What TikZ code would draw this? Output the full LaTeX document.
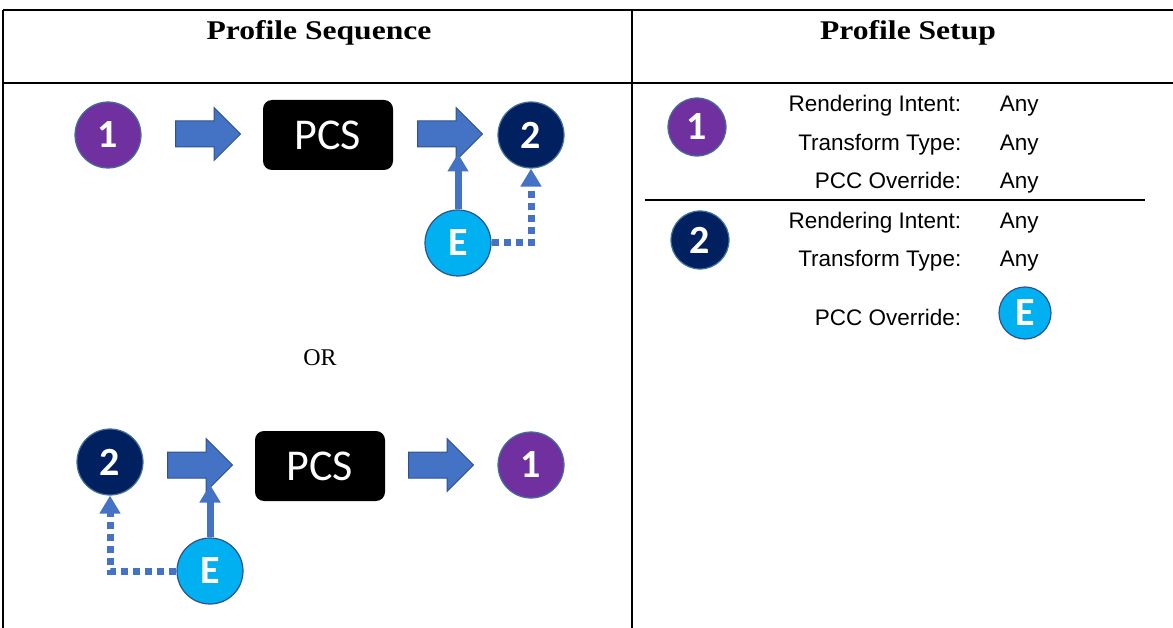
\documentclass[tikz,border=0pt]{standalone}
\usepackage{fontspec}
\setmainfont{Liberation Serif}
\setsansfont{Liberation Sans}
\newfontfamily\calib{Carlito}
\newfontfamily\headfont[FakeStretch=1.17]{Liberation Serif}
\usepackage{tikz}
\usetikzlibrary{arrows.meta, shapes.arrows}

\definecolor{ppurple}{HTML}{7030A0}
\definecolor{pnavy}{HTML}{002060}
\definecolor{pcyan}{HTML}{00B0F0}
\definecolor{pblue}{HTML}{4472C4}
\definecolor{pedge}{HTML}{2F528F}
\definecolor{ringblue}{HTML}{41719C}

\begin{document}
\begin{tikzpicture}[x=1pt, y=-1pt, line width=1.5pt,
    prof/.style={circle, draw=ringblue, line width=1.2pt, minimum size=66pt,
      inner sep=0pt, text=white, font=\calib\bfseries\fontsize{40}{40}\selectfont},
    one/.style={prof, fill=ppurple},
    two/.style={prof, fill=pnavy},
    ext/.style={prof, fill=pcyan, draw=pedge},
    small/.style={minimum size=58pt},
    pcs/.style={rectangle, rounded corners=9pt, fill=black, minimum width=130pt,
      minimum height=70pt, text=white, font=\calib\fontsize{44}{44}\selectfont},
    blockarr/.style={single arrow, fill=pblue, draw=pedge, line width=1pt,
      inner xsep=0pt, inner ysep=12.5pt, minimum height=65pt,
      single arrow head extend=13.5pt, anchor=tail},
    link/.style={draw=pblue, line width=7pt, -{Triangle[length=18pt, width=20pt, sep=6pt]}},
    dotlink/.style={draw=pblue, line width=7pt, dash pattern=on 7pt off 5pt,
      -{Triangle[length=18pt, width=20pt]}},
    head/.style={font=\headfont\bfseries\fontsize{27}{27}\selectfont, anchor=base},
    label/.style={font=\sffamily\fontsize{22.5}{22.5}\selectfont, anchor=base east, inner sep=0pt},
    value/.style={font=\sffamily\fontsize{22.5}{22.5}\selectfont, anchor=base west, inner sep=0pt}]
    \useasboundingbox (0,0) rectangle (1173,628);

    % table
    \draw[] (3,10) -- (1173,10);
    \draw[] (3,83) -- (1173,83);
    \draw[] (3,10) -- (3,628);
    \draw[] (632,10) -- (632,628);
    \node[head] (hseq) at (319,40) {Profile Sequence};
    \node[head] (hset) at (908,40) {Profile Setup};

    % first sequence
    \node[one] (n1) at (108,135) {1};
    \node[blockarr] (a1) at (175,134) {};
    \node[pcs] (p1) at (328,135) {PCS};
    \node[blockarr] (a2) at (417,134) {};
    \node[two] (n2) at (531,135) {2};
    \node[ext] (e1) at (458,243) {E};
    \draw[link] (e1.north) -- (e1.north |- a2.after head);
    \draw[dotlink] (e1.east) -| (n2.south);

    \node[font=\fontsize{24}{24}\selectfont] (or) at (320,358) {OR};

    % second sequence
    \node[two] (m2) at (110,462) {2};
    \node[blockarr] (a3) at (167,465) {};
    \node[pcs] (p2) at (320,466) {PCS};
    \node[blockarr] (a4) at (408,465) {};
    \node[one] (m1) at (531,465) {1};
    \node[ext] (e2) at (210,571) {E};
    \draw[link] (e2.north) -- (e2.north |- a3.after head);
    \draw[dotlink] (e2.west) -| (m2.south);

    % profile setup
    \node[one, small] (s1) at (697,127) {1};
    \node[label] (ri1) at (962,112) {Rendering Intent:};
    \node[label] (tt1) at (962,151) {Transform Type:};
    \node[label] (po1) at (962,189) {PCC Override:};
    \node[value] (v1) at (999,112) {Any};
    \node[value] (v2) at (999,151) {Any};
    \node[value] (v3) at (999,189) {Any};
    \draw[] (645,200) -- (1145,200);
    \node[two, small] (s2) at (700,240) {2};
    \node[label] (ri2) at (962,229) {Rendering Intent:};
    \node[label] (tt2) at (962,267) {Transform Type:};
    \node[label] (po2) at (962,326) {PCC Override:};
    \node[value] (v4) at (999,229) {Any};
    \node[value] (v5) at (999,267) {Any};
    \node[ext, small, minimum size=52pt] (s3) at (1025,313) {E};
\end{tikzpicture}
\end{document}
